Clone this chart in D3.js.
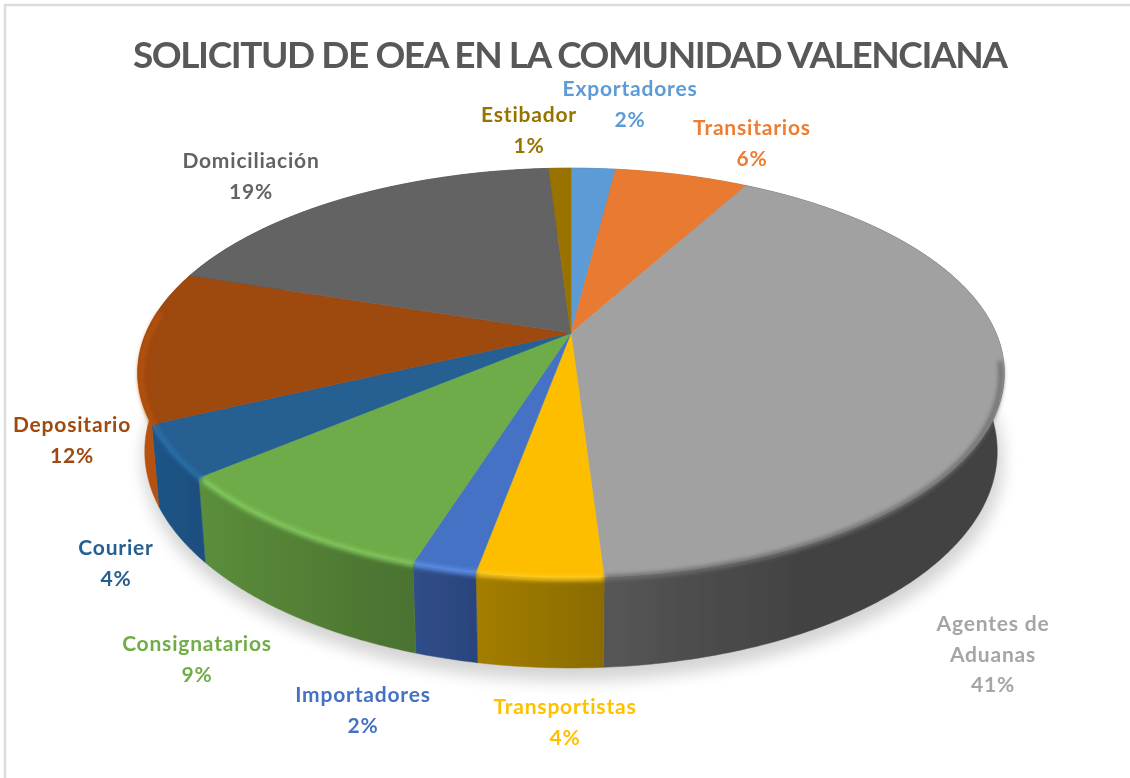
<!DOCTYPE html>
<html>
<head>
<meta charset="utf-8">
<script src="https://cdn.jsdelivr.net/npm/d3@7"></script>
<style>
  html, body { margin: 0; padding: 0; background: #fff; }
  svg { display: block; }
  text { font-family: Lato, "Open Sans", sans-serif; }
</style>
</head>
<body>
<script>
const categories = ['Exportadores', 'Transitarios', 'Agentes de Aduanas', 'Transportistas', 'Importadores',
  'Consignatarios', 'Courier', 'Depositario', 'Domiciliación', 'Estibador'];
// shares, the labels round them to whole percents
const shares = [2, 6, 41, 3.9, 2, 9, 4.1, 12, 19, 1];
const title = 'SOLICITUD DE OEA EN LA COMUNIDAD VALENCIANA';

const topColors = ['#5b9bd5', '#e97a30', '#a1a1a1', '#fdbe00', '#4472c4', '#6eab48', '#255e91', '#9e480e', '#636363', '#997300'];
const sideLight = ['#3f6f99', '#a8561f', '#565656', '#a37e00', '#2f4f8a', '#5b8e3b', '#1d5488', '#b9530f', '#444444', '#6b5000'];
const sideDark = ['#3f6f99', '#a8561f', '#424242', '#8a6b00', '#2b447c', '#4b7330', '#1c4f7e', '#a94c0d', '#444444', '#6b5000'];
const rimColors = [null, null, '#6f6f6f', '#ffcb1a', '#5f90ea', '#82c95f', '#2a6fa8', '#b5520f', null, null];
const labelColors = ['#5b9bd5', '#ed7d31', '#a5a5a5', '#ffc000', '#4472c4', '#70ad47', '#255e91', '#9e480e', '#636363', '#997300'];

// label anchors (centre of the first line), in the order of categories
const labelPos = [[630, 89], [752, 128], [993, 624], [565, 707], [363, 695], [197, 644], [116, 548], [72, 425], [251, 161], [529, 115]];

const width = 1130, height = 778;

// perspective of the tilted disc, fitted to the reference outline
const cx = 571, cy = 333, rx = 425, ry = 197, persp = 0.195, depthY = 78, depthS = 0.016;

function project(a, z, r = 1) {
  const u = Math.sin(a) * r, v = -Math.cos(a) * r;
  const s = 1 / (1 - persp * v + depthS * z);
  return [cx + rx * u * s, cy + (ry * v + depthY * z) * s];
}

function arcAngles(a0, a1) {
  const n = Math.max(2, Math.ceil((a1 - a0) / 0.01));
  return d3.range(n + 1).map(i => a0 + (a1 - a0) * i / n);
}

const line = d3.line();

const svg = d3.select('body').append('svg').attr('width', width).attr('height', height);
const defs = svg.append('defs');

function blur(id, dev) {
  defs.append('filter').attr('id', id).attr('filterUnits', 'userSpaceOnUse')
    .attr('x', 0).attr('y', 0).attr('width', width).attr('height', height)
    .append('feGaussianBlur').attr('stdDeviation', dev);
}
blur('soft', 0.45);
blur('softText', 0.6);
blur('rim', 2);
blur('shadow', 8);

// frame, only on the top and left
svg.append('path').attr('d', `M5,${height}V5H${width}`)
  .attr('fill', 'none').attr('stroke', '#dcdcdc').attr('stroke-width', 2.5);

const pie = d3.pie().sort(null).value(d => d);
const arcs = pie(shares).map((d, i) => ({ ...d, i }));

const chart = svg.append('g').attr('filter', 'url(#soft)');

// soft shadow under the disc
const shadowPts = arcAngles(0, 2 * Math.PI).map(a => project(a, 1));
chart.append('path')
  .attr('d', line(shadowPts) + 'Z')
  .attr('transform', 'translate(2,9)')
  .attr('fill', '#000').attr('stroke', '#000').attr('stroke-width', 8)
  .attr('opacity', 0.17)
  .attr('filter', 'url(#shadow)');

// side walls first, the top faces hide the back half
const sides = chart.append('g');
arcs.forEach(d => {
  const angles = arcAngles(d.startAngle, d.endAngle);
  const upper = angles.map(a => project(a, 0));
  const lower = angles.map(a => project(a, 1)).reverse();
  const xs = upper.concat(lower).map(p => p[0]);
  const x0 = d3.min(xs);
  const x1 = Math.min(d3.max(xs), x0 + 200);
  const grad = defs.append('linearGradient').attr('id', `side${d.i}`)
    .attr('gradientUnits', 'userSpaceOnUse')
    .attr('x1', x0).attr('x2', x1).attr('y1', 0).attr('y2', 0);
  grad.append('stop').attr('offset', 0).attr('stop-color', sideLight[d.i]);
  grad.append('stop').attr('offset', 1).attr('stop-color', sideDark[d.i]);
  sides.append('path')
    .attr('d', line(upper.concat(lower)) + 'Z')
    .attr('fill', `url(#side${d.i})`)
    .attr('stroke', `url(#side${d.i})`).attr('stroke-width', 0.5);
});

// top faces
chart.append('g').selectAll('path')
  .data(arcs)
  .join('path')
    .attr('d', d => line([[cx, cy]].concat(arcAngles(d.startAngle, d.endAngle).map(a => project(a, 0)))) + 'Z')
    .attr('fill', d => topColors[d.i])
    .attr('stroke', d => topColors[d.i])
    .attr('stroke-width', 0.5);

// bevel along the front rim
chart.append('g').selectAll('path')
  .data(arcs.filter(d => rimColors[d.i]))
  .join('path')
    .attr('d', d => {
      const cut = d.i === 2 ? 0.12 : -0.12;
      const pts = arcAngles(d.startAngle, d.endAngle)
        .filter(a => -Math.cos(a) > cut)
        .map(a => project(a, 0.03, 0.993));
      return line(pts);
    })
    .attr('fill', 'none')
    .attr('stroke', d => rimColors[d.i])
    .attr('stroke-width', 5)
    .attr('filter', 'url(#rim)');

// title and labels
const texts = svg.append('g').attr('filter', 'url(#softText)');

texts.append('text')
  .attr('x', 570.5).attr('y', 68)
  .attr('text-anchor', 'middle')
  .attr('font-size', 37)
  .attr('font-weight', 700)
  .attr('fill', '#595959')
  .attr('textLength', 875)
  .attr('lengthAdjust', 'spacing')
  .text(title);

function labelLines(i) {
  const name = categories[i];
  const words = name === 'Agentes de Aduanas' ? ['Agentes de', 'Aduanas'] : [name];
  return words.concat(`${Math.round(shares[i])}%`);
}

const labels = texts.append('g').selectAll('text')
  .data(categories.map((c, i) => i))
  .join('text')
    .attr('text-anchor', 'middle')
    .attr('font-size', 21)
    .attr('font-weight', 700)
    .attr('letter-spacing', 0.8)
    .attr('fill', i => labelColors[i]);

labels.each(function (i) {
  const [x, y] = labelPos[i];
  d3.select(this).selectAll('tspan')
    .data(labelLines(i))
    .join('tspan')
      .attr('x', x)
      .attr('y', (d, k) => y + 7 + k * 30.5)
      .text(d => d);
});
</script>
</body>
</html>
